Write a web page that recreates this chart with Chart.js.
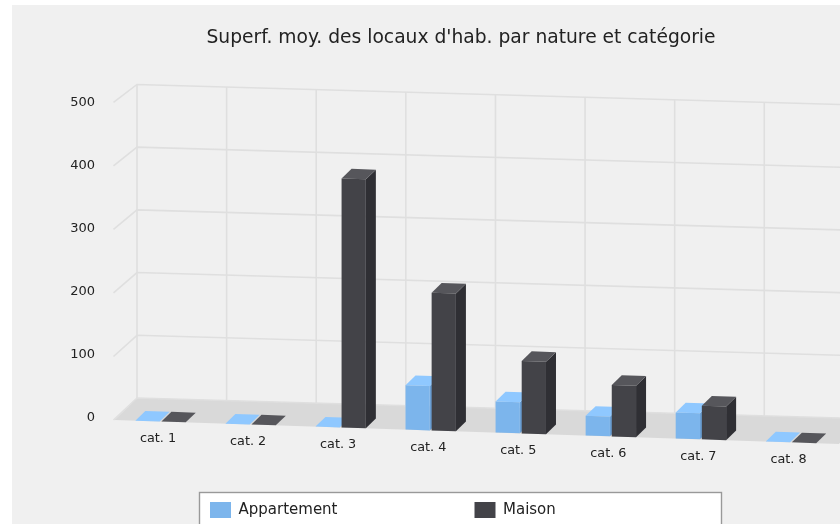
<!DOCTYPE html>
<html><head><meta charset="utf-8">
<style>
html,body{margin:0;padding:0;background:#fff;overflow:hidden}
#bg{position:absolute;left:12px;top:5px;width:828px;height:519px;background:#f0f0f0}
canvas{position:absolute;left:0;top:0}
</style>
<script src="https://cdn.jsdelivr.net/npm/chart.js@4"></script>
</head><body>
<div id="bg"></div>
<canvas id="c" width="840" height="524"></canvas>
<script>
const categories = ['cat. 1','cat. 2','cat. 3','cat. 4','cat. 5','cat. 6','cat. 7','cat. 8'];
const appartement = [0,0,0,70,49,31,41,0];
const maison = [0,0,392,217,114,81,53,0];
const titleText = "Superf. moy. des locaux d'hab. par nature et catégorie";
const FONT = "'DejaVu Sans'";
const SHEAR = 0.033, ORIGIN_X = 115;
const DEPTH_X = 10, DEPTH_Y = -10;
const faces = [
  {top:'#8fc8ff', side:'#6a9fd4'},
  {top:'#56565b', side:'#2f2f34'}
];
const backX = x => 137 + (x - 115.5) * 0.995;
const backY = y => 398 + (y - 420) * 62.8 / 63.6;
const backSlope = 0.0285;

function drawFaces(chart, i){
  const ctx = chart.ctx, f = faces[i];
  chart.getDatasetMeta(i).data.forEach(el => {
    const {x, y, base, width} = el.getProps(['x','y','base','width'], true);
    const l = x - width/2, r = x + width/2;
    ctx.fillStyle = f.side;
    ctx.beginPath();
    ctx.moveTo(r,y); ctx.lineTo(r+DEPTH_X,y+DEPTH_Y); ctx.lineTo(r+DEPTH_X,base+DEPTH_Y); ctx.lineTo(r,base);
    ctx.closePath(); ctx.fill();
    ctx.fillStyle = f.top;
    ctx.beginPath();
    ctx.moveTo(l,y); ctx.lineTo(l+DEPTH_X,y+DEPTH_Y); ctx.lineTo(r+DEPTH_X,y+DEPTH_Y); ctx.lineTo(r,y);
    ctx.closePath(); ctx.fill();
  });
}

const scene = {
  id:'scene',
  afterLayout(chart){
    const t = chart.titleBlock;
    t.left = 82; t.right = 840;
    const lg = chart.legend;
    const pad = chart.options.plugins.legend.labels.padding;
    lg.left = 210 - pad; lg.right = 838;
    lg.top = 502 - pad; lg.bottom = 524;
  },
  beforeDraw(chart){
    const ctx = chart.ctx, xs = chart.scales.x, ys = chart.scales.y;
    const xItems = xs.getLabelItems();
    if(!xItems._done){
      xItems._done = true;
      xItems.forEach(it => { const tr = it.options.translation; tr[1] += SHEAR * (tr[0] - ORIGIN_X); });
    }
    const yItems = ys.getLabelItems();
    if(!yItems._done){
      yItems._done = true;
      yItems.forEach(it => { const tr = it.options.translation; tr[1] = 103 + (tr[1] - ys.top) * 315.5 / 318; });
    }
    ctx.save();
    // floor
    const y0 = ys.getPixelForValue(0), xl = xs.left, xr = xs.right;
    ctx.fillStyle = '#d9d9d9';
    ctx.beginPath();
    ctx.moveTo(xl-1, y0);
    ctx.lineTo(backX(xl), backY(y0));
    ctx.lineTo(backX(xr), backY(y0) + backSlope*(backX(xr)-137));
    ctx.lineTo(xr+3, y0 + SHEAR*(xr+3-ORIGIN_X));
    ctx.closePath(); ctx.fill();
    // grid
    ctx.strokeStyle = '#dfdfdf'; ctx.lineWidth = 1.6;
    ys.ticks.forEach(t => {
      const yf = ys.getPixelForValue(t.value), yb = backY(yf);
      ctx.beginPath();
      ctx.moveTo(xl-2, yf);
      ctx.lineTo(backX(xl), yb);
      ctx.lineTo(backX(xr), yb + backSlope*(backX(xr)-137));
      ctx.stroke();
    });
    const yTop = backY(ys.getPixelForValue(ys.max)), yBot = backY(y0);
    for(let i=0;i<=categories.length;i++){
      const xf = xs.getPixelForValue(i) - (xs.getPixelForValue(1)-xs.getPixelForValue(0))/2;
      const xb = backX(xf), d = backSlope*(xb-137);
      ctx.beginPath(); ctx.moveTo(xb,yTop+d); ctx.lineTo(xb,yBot+d); ctx.stroke();
    }
    // legend box
    ctx.fillStyle = '#fff'; ctx.strokeStyle = '#999'; ctx.lineWidth = 1.4;
    ctx.fillRect(199.5,492.5,522,40); ctx.strokeRect(199.5,492.5,522,40);
    ctx.restore();
  },
  beforeDatasetsDraw(chart){
    const ctx = chart.ctx;
    ctx.save();
    ctx.transform(1, SHEAR, 0, 1, 0, -SHEAR*ORIGIN_X);
    // side and top faces sit behind both front faces, drawn back to front
    drawFaces(chart, 0);
    drawFaces(chart, 1);
  },
  afterDatasetsDraw(chart){ chart.ctx.restore(); }
};

new Chart(document.getElementById('c').getContext('2d'), {
  type:'bar',
  plugins:[scene],
  data:{labels:categories, datasets:[
    {label:'Appartement', data:appartement, backgroundColor:'#7cb5ec', clip:false},
    {label:'Maison', data:maison, backgroundColor:'#434348', clip:false}
  ]},
  options:{
    responsive:false, animation:false,
    layout:{padding:{bottom:40, right:4, left:0, top:0}, autoPadding:false},
    datasets:{bar:{barPercentage:0.93, categoryPercentage:0.58}},
    plugins:{
      tooltip:{enabled:false},
      title:{display:true, text:titleText, color:'#222', font:{family:FONT,size:18.7,weight:'normal'}, padding:{top:27,bottom:53}},
      legend:{position:'chartArea', align:'start',
        labels:{boxWidth:21, boxHeight:16, padding:137, color:'#222', font:{family:FONT,size:15}}}
    },
    scales:{
      x:{grid:{display:false}, border:{display:false},
         ticks:{color:'#222', font:{family:FONT,size:12.8}, padding:2, labelOffset:-2.5, maxRotation:0},
         afterFit(s){s.height = 64;}},
      y:{min:0,max:500, grid:{display:false, drawTicks:false}, border:{display:false},
         ticks:{stepSize:100, color:'#222', font:{family:FONT,size:13}, padding:20.5},
         afterFit(s){s.width = 115.5;}}
    }
  }
});
</script>
</body></html>
